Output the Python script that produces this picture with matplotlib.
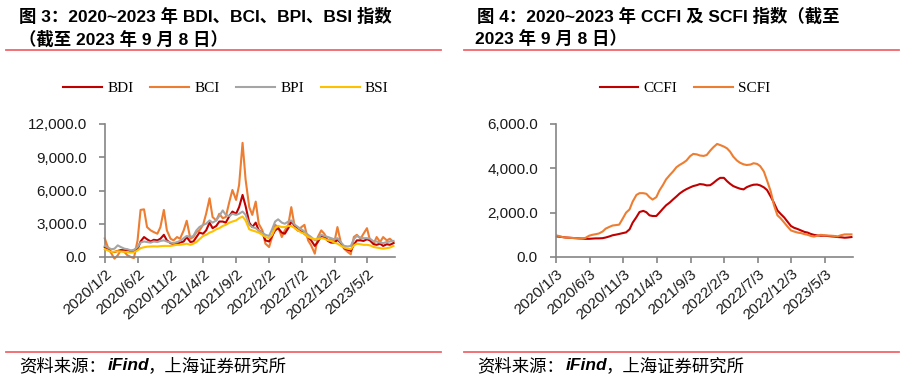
import numpy as np
import pandas as pd
import matplotlib
matplotlib.use('Agg')
import matplotlib.pyplot as plt
import matplotlib.ticker as mticker

# 半月频率取样（每月1日、15日）
dates = pd.date_range('2020-01-01', '2023-09-01', freq='SMS')

# 图3：BDI、BCI、BPI、BSI
bdi = [900, 700, 450, 450, 550, 620, 620, 650, 500, 450,
       700, 1400, 1800, 1600, 1400, 1550, 1500, 1650, 2000, 1500,
       1250, 1150, 1200, 1300, 1400, 1800, 1350, 1400, 1800, 2200,
       2100, 2400, 3100, 2600, 2800, 3200, 3200, 3100, 3700, 4100,
       3900, 4500, 5600, 4600, 3100, 2700, 3100, 2400, 2200, 1500,
       1400, 1900, 2400, 2600, 2200, 2100, 2600, 3200, 2800, 2400,
       2300, 2100, 1800, 1500, 1000, 1350, 1900, 1800, 1450, 1300,
       1300, 1550, 1250, 800, 650, 550, 1100, 1500, 1500, 1450,
       1600, 1500, 1150, 1100, 1200, 1000, 1150, 1100, 1250]
bci = [1670, 900, 300, -150, 150, 600, 450, 150, 0, -100,
       1500, 4250, 4300, 2700, 2400, 2250, 2100, 2700, 4250, 2400,
       1650, 1500, 1800, 1650, 2400, 3270, 1650, 1800, 2250, 2400,
       2900, 3900, 5300, 3600, 3300, 3900, 3500, 3600, 5000, 6050,
       5150, 6500, 10300, 7000, 4500, 3800, 5000, 3000, 2400, 1200,
       900, 1800, 2900, 2700, 1800, 2400, 2900, 4500, 2600, 2400,
       2700, 2900, 1500, 1050, 300, 1800, 2400, 2100, 1500, 1650,
       1350, 2700, 1200, 750, 450, 250, 1800, 2000, 1650, 2100,
       2600, 1500, 1200, 1800, 1350, 1800, 1500, 1650, 1350]
bpi = [1000, 850, 700, 750, 1050, 900, 750, 700, 600, 650,
       900, 1300, 1400, 1350, 1300, 1400, 1350, 1450, 1500, 1400,
       1300, 1250, 1350, 1450, 1700, 1900, 1800, 1900, 2400, 2700,
       2900, 3000, 3300, 3100, 3300, 3700, 4200, 3800, 3700, 3900,
       3800, 3900, 4100, 3800, 2900, 2700, 2600, 2400, 2200, 2000,
       1900, 2500, 3200, 3400, 3100, 3000, 3200, 3300, 2900, 2700,
       2500, 2300, 2000, 1800, 1500, 1700, 2000, 1900, 1800, 1700,
       1600, 1700, 1300, 1000, 950, 1000, 1600, 1900, 1750, 1700,
       1700, 1650, 1400, 1400, 1300, 1250, 1350, 1400, 1450]
bsi = [700, 600, 450, 480, 520, 500, 470, 430, 400, 420,
       600, 800, 880, 930, 950, 960, 950, 980, 1000, 1000,
       1000, 1050, 1100, 1100, 1150, 1200, 1100, 1200, 1350, 1600,
       1900, 2000, 2200, 2300, 2500, 2600, 2800, 2900, 3100, 3200,
       3300, 3500, 3650, 3300, 2500, 2400, 2300, 2200, 2000, 1800,
       1700, 2000, 2600, 2800, 2700, 2700, 2800, 2800, 2600, 2400,
       2200, 2100, 1800, 1700, 1600, 1600, 1700, 1650, 1500, 1450,
       1300, 1200, 1000, 850, 750, 700, 1050, 1200, 1150, 1100,
       1100, 1050, 900, 850, 800, 750, 800, 850, 1000]

# 图4：CCFI、SCFI
ccfi = [930, 920, 900, 880, 870, 860, 850, 840, 830, 820,
        820, 830, 840, 840, 850, 880, 930, 980, 1010, 1040,
        1080, 1110, 1250, 1550, 1800, 2030, 2080, 2020, 1880, 1850,
        1850, 2000, 2180, 2330, 2460, 2590, 2730, 2860, 2980, 3060,
        3140, 3200, 3240, 3290, 3270, 3230, 3240, 3340, 3480, 3570,
        3570, 3420, 3300, 3200, 3130, 3080, 3050, 3150, 3220, 3260,
        3270, 3230, 3140, 3020, 2720, 2450, 2100, 1950, 1780, 1600,
        1400, 1320, 1260, 1200, 1130, 1100, 1040, 1000, 970, 960,
        960, 950, 930, 920, 900, 890, 870, 880, 900]
scfi = [980, 950, 900, 880, 870, 860, 850, 840, 840, 860,
        960, 1000, 1030, 1060, 1150, 1280, 1360, 1420, 1440, 1460,
        1750, 2000, 2150, 2500, 2800, 2880, 2880, 2850, 2700, 2590,
        2700, 3000, 3250, 3500, 3700, 3850, 4050, 4150, 4250, 4350,
        4550, 4650, 4630, 4580, 4560, 4600, 4800, 4950, 5100, 5050,
        4980, 4900, 4750, 4530, 4350, 4250, 4180, 4150, 4170, 4230,
        4200, 4100, 3850, 3450, 2950, 2350, 1880, 1750, 1550, 1380,
        1200, 1150, 1100, 1080, 1030, 1000, 950, 920, 960, 1000,
        980, 970, 960, 950, 930, 980, 1020, 1020, 1020]

left_ticks = ['2020/1/2', '2020/6/2', '2020/11/2', '2021/4/2', '2021/9/2',
              '2022/2/2', '2022/7/2', '2022/12/2', '2023/5/2']
right_ticks = ['2020/1/3', '2020/6/3', '2020/11/3', '2021/4/3', '2021/9/3',
               '2022/2/3', '2022/7/3', '2022/12/3', '2023/5/3']

plt.rcParams['font.family'] = ['Liberation Sans', 'Noto Sans CJK SC']

W, H = 904, 379
fig = plt.figure(figsize=(W / 100, H / 100), dpi=100)

def fx(px):
    return px / W

def fy(py):
    return 1 - py / H

rule_color = '#F0676A'
axis_color = '#858585'
cjk = ['Liberation Sans', 'Noto Sans CJK SC']

def setup_axes(ax, ymax, ystep, ticks, end):
    for s in ['top', 'right']:
        ax.spines[s].set_visible(False)
    for s in ['left', 'bottom']:
        ax.spines[s].set_color(axis_color)
        ax.spines[s].set_linewidth(1.2)
    ax.set_ylim(0, ymax)
    ax.set_yticks(np.arange(0, ymax + 1, ystep))
    ax.yaxis.set_major_formatter(mticker.FuncFormatter(lambda v, p: '{:,.1f}'.format(v)))
    tick_dates = pd.to_datetime(ticks, format='%Y/%m/%d')
    ax.set_xticks(tick_dates)
    ax.set_xticklabels(ticks, rotation=42, ha='right', rotation_mode='anchor')
    ax.set_xlim(tick_dates[0], pd.Timestamp(end))
    ax.tick_params(axis='both', direction='out', length=4, width=1.2,
                   color=axis_color, labelsize=11, labelcolor='#1a1a1a')
    ax.tick_params(axis='x', pad=3)
    ax.tick_params(axis='y', pad=9)
    ax.patch.set_alpha(0)

# 左图
ax1 = fig.add_axes([fx(105), fy(257), fx(395 - 105), (257 - 124) / H])
ax1.plot(dates, bdi, color='#C00000', lw=1.5, label='BDI', clip_on=False, zorder=3)
ax1.plot(dates, bci, color='#ED7D31', lw=1.5, label='BCI', clip_on=False, zorder=2)
ax1.plot(dates, bpi, color='#A5A5A5', lw=1.5, label='BPI', clip_on=False, zorder=4)
ax1.plot(dates, bsi, color='#FFC000', lw=1.5, label='BSI', clip_on=False, zorder=5)
setup_axes(ax1, 12000, 3000, left_ticks, '2023-09-08')

# 右图
ax2 = fig.add_axes([fx(556), fy(257), fx(853 - 556), (257 - 124) / H])
ax2.plot(dates, ccfi, color='#C00000', lw=1.5, label='CCFI')
ax2.plot(dates, scfi, color='#ED7D31', lw=1.5, label='SCFI')
setup_axes(ax2, 6000, 2000, right_ticks, '2023-09-08')

# 图例
leg_kw = dict(loc='center', frameon=False, handlelength=2.55, handletextpad=0.33,
              columnspacing=1.1, prop={'family': 'Liberation Serif', 'size': 11})
fig.legend(*ax1.get_legend_handles_labels(), ncol=4,
           bbox_to_anchor=(fx(226), fy(88)), **leg_kw)
fig.legend(*ax2.get_legend_handles_labels(), ncol=2,
           bbox_to_anchor=(fx(685), fy(88)), **leg_kw)

# 标题
title_kw = dict(family=cjk, weight='bold', size=12.5, va='center', ha='left')
fig.text(fx(19), fy(16), '图 3：2020~2023 年 BDI、BCI、BPI、BSI 指数', **title_kw)
fig.text(fx(19), fy(39), '（截至 2023 年 9 月 8 日）', **title_kw)
fig.text(fx(477), fy(16), '图 4：2020~2023 年 CCFI 及 SCFI 指数（截至', **title_kw)
fig.text(fx(475), fy(39), '2023 年 9 月 8 日）', **title_kw)

# 分隔线
for x0, x1 in [(6, 441), (464, 899)]:
    for yy in [49.5, 352]:
        fig.add_artist(plt.Line2D([fx(x0), fx(x1)], [fy(yy), fy(yy)],
                                  color=rule_color, lw=1.3))

# 资料来源
foot_kw = dict(family=cjk, style='italic', size=12.5, va='center', ha='left')
for x0 in [19, 477]:
    fig.text(fx(x0), fy(366), '资料来源：', **foot_kw)
    fig.text(fx(x0 + 89), fy(366), 'iFind', weight='bold', **foot_kw)
    fig.text(fx(x0 + 129), fy(366), '，上海证券研究所', **foot_kw)

fig.savefig('out.png', dpi=100)
